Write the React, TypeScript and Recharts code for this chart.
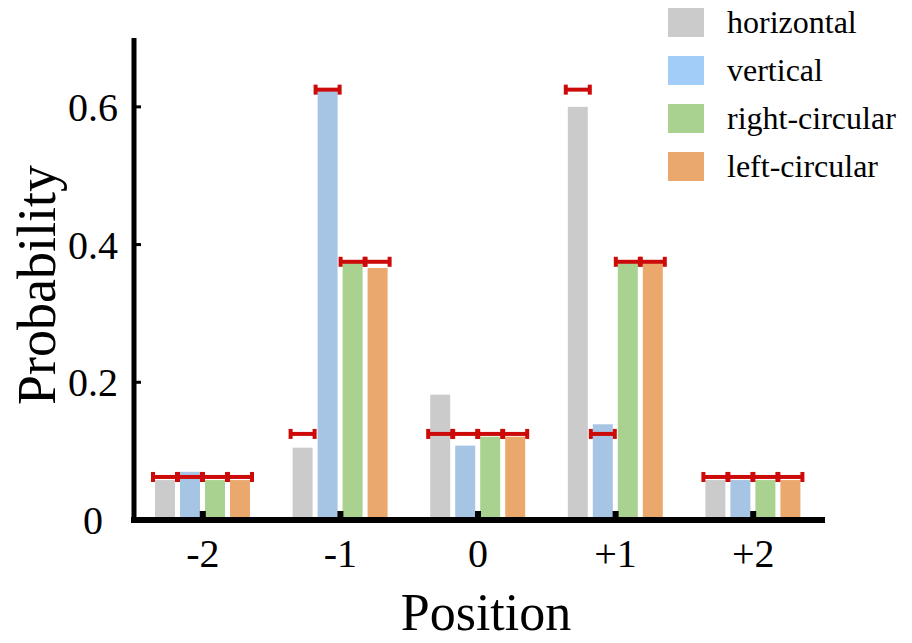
import { Bar, BarChart, Legend, XAxis, YAxis } from "recharts";

const positions = ["-2", "-1", "0", "+1", "+2"];

// measured probabilities
const horizontal = [0.058, 0.105, 0.182, 0.6, 0.058];
const vertical = [0.07, 0.625, 0.108, 0.139, 0.058];
const rightCircular = [0.058, 0.375, 0.121, 0.373, 0.058];
const leftCircular = [0.058, 0.366, 0.121, 0.373, 0.058];

// theory values (red markers)
const thHorizontal = [0.0625, 0.125, 0.125, 0.625, 0.0625];
const thVertical = [0.0625, 0.625, 0.125, 0.125, 0.0625];
const thRightCircular = [0.0625, 0.375, 0.125, 0.375, 0.0625];
const thLeftCircular = [0.0625, 0.375, 0.125, 0.375, 0.0625];

const yTicks = [0, 0.2, 0.4, 0.6];

const data = positions.map((position, i) => ({
  position,
  horizontal: horizontal[i],
  vertical: vertical[i],
  rightCircular: rightCircular[i],
  leftCircular: leftCircular[i],
  thHorizontal: thHorizontal[i],
  thVertical: thVertical[i],
  thRightCircular: thRightCircular[i],
  thLeftCircular: thLeftCircular[i],
}));

const series = [
  { key: "horizontal", theory: "thHorizontal", name: "horizontal", fill: "#cbcbcb", legend: "#cbcbcb" },
  { key: "vertical", theory: "thVertical", name: "vertical", fill: "#a6c4e3", legend: "#a2cdf8" },
  { key: "rightCircular", theory: "thRightCircular", name: "right-circular", fill: "#a9d290", legend: "#a9d290" },
  { key: "leftCircular", theory: "thLeftCircular", name: "left-circular", fill: "#eba86c", legend: "#eba86c" },
];

const RED = "#cc0a0a";
const FONT = "'Liberation Serif', 'Times New Roman', serif";

function MarkedBar(props: any) {
  const { x, y, width, height, fill, payload, dataKey, theoryKey } = props;
  const v = payload[dataKey];
  const th = payload[theoryKey];
  const base = y + height;
  const my = base - (th * height) / v;
  const x1 = x - 2.5;
  const x2 = x + width + 2.5;
  return (
    <g>
      <rect x={x} y={y} width={width} height={height} fill={fill} />
      <line x1={x1} x2={x2} y1={my} y2={my} stroke={RED} strokeWidth={4} />
      <rect x={x1 - 1.5} y={my - 5} width={4} height={10} fill={RED} />
      <rect x={x2 - 2.5} y={my - 5} width={4} height={10} fill={RED} />
    </g>
  );
}

function XTick({ x, y, payload }: any) {
  return (
    <g>
      <rect x={x - 3} y={y - 9} width={6} height={8} fill="#000" />
      <text x={x} y={y + 47} textAnchor="middle" fontSize={40} fontFamily={FONT} fill="#000">
        {payload.value}
      </text>
    </g>
  );
}

function YTick({ x, y, payload }: any) {
  return (
    <g>
      <line x1={x} x2={x + 7} y1={y} y2={y} stroke="#000" strokeWidth={3} />
      <text x={x - 41} y={y + 14} textAnchor="middle" fontSize={40} fontFamily={FONT} fill="#000">
        {payload.value === 0 ? "0" : payload.value.toFixed(1)}
      </text>
    </g>
  );
}

function LegendBox() {
  return (
    <div style={{ fontFamily: FONT, fontSize: 32, color: "#000" }}>
      {series.map((s) => (
        <div key={s.key} style={{ display: "flex", alignItems: "center", height: 48 }}>
          <div style={{ width: 36, height: 29, background: s.legend, marginRight: 23 }} />
          <span>{s.name}</span>
        </div>
      ))}
    </div>
  );
}

export default function App() {
  return (
    <div style={{ position: "absolute", left: 0, top: 0, background: "#fff" }}>
      <BarChart
        width={912}
        height={643}
        data={data}
        margin={{ top: 38, right: 90, left: 0, bottom: 0 }}
        barSize={20}
        barGap={5}
      >
        <XAxis
          dataKey="position"
          height={123}
          interval={0}
          tickSize={0}
          tickMargin={0}
          tickLine={false}
          axisLine={{ stroke: "#000", strokeWidth: 6, strokeLinecap: "square" }}
          tick={<XTick />}
          label={() => (
            <text x={486} y={630} textAnchor="middle" fontSize={52} fontFamily={FONT} fill="#000">
              Position
            </text>
          )}
        />
        <YAxis
          width={134}
          domain={[0, 0.7]}
          ticks={yTicks}
          tickSize={0}
          tickMargin={0}
          tickLine={false}
          axisLine={{ stroke: "#000", strokeWidth: 5 }}
          tick={<YTick />}
          label={() => (
            <text
              x={37}
              y={285}
              transform="rotate(-90, 37, 285)"
              textAnchor="middle"
              dominantBaseline="central"
              fontSize={54}
              fontFamily={FONT}
              fill="#000"
            >
              Probability
            </text>
          )}
        />
        <Legend
          layout="vertical"
          align="center"
          verticalAlign="middle"
          wrapperStyle={{ left: 668, top: -2 }}
          content={<LegendBox />}
        />
        {series.map((s) => (
          <Bar
            key={s.key}
            dataKey={s.key}
            name={s.name}
            fill={s.fill}
            isAnimationActive={false}
            shape={(p: any) => <MarkedBar {...p} dataKey={s.key} theoryKey={s.theory} fill={s.fill} />}
          />
        ))}
      </BarChart>
    </div>
  );
}
